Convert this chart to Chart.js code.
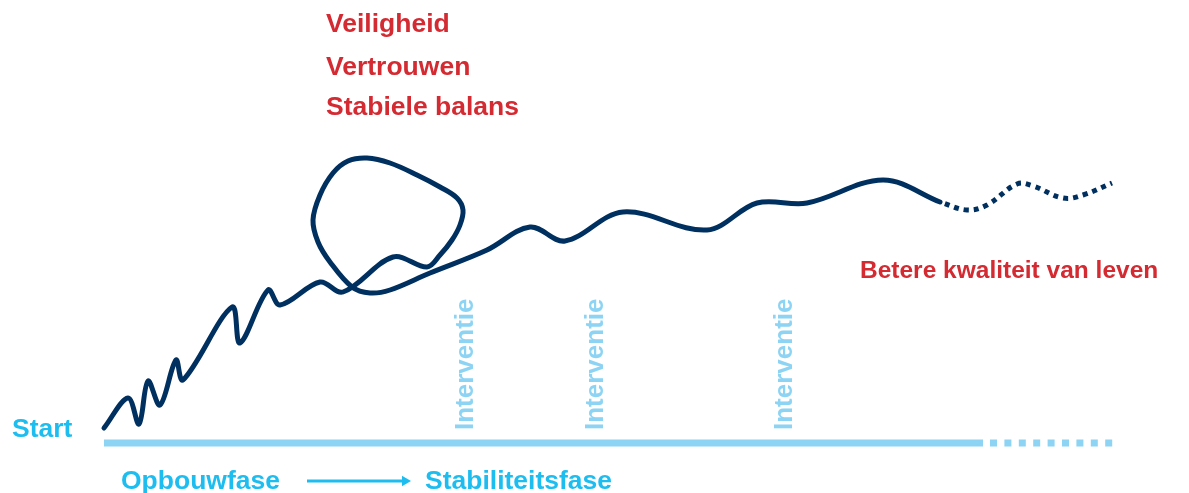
<!DOCTYPE html>
<html>
<head>
<meta charset="utf-8">
<script src="https://cdn.jsdelivr.net/npm/chart.js@4/dist/chart.umd.min.js"></script>
<style>
  html, body { margin: 0; padding: 0; background: #fff; }
  #wrap { width: 1189px; height: 493px; }
</style>
</head>
<body>
<div id="wrap"><canvas id="journey"></canvas></div>
<script>
// Path of the journey (time on x, level on y, y grows downward)
const pathX = [104, 128, 139, 148, 160, 176, 183, 232, 240, 268, 280, 320, 343, 393, 427, 440, 452, 460, 463, 457, 440, 417, 390, 367, 348, 333, 320, 313, 318, 330, 352, 370, 390, 430, 487, 530, 565, 623, 707, 757, 807, 883, 940];
const pathY = [428, 398, 424, 381, 405, 360, 380, 307, 343, 290, 305, 282, 292, 257, 267, 255, 240, 225, 210, 198, 187, 175, 163, 158, 161, 173, 195, 220, 242, 262, 287, 293, 290, 273, 250, 227, 241, 212, 230, 203, 203, 180, 202];

// Uncertain future part (dotted)
const futureX = [940, 967, 987, 1017, 1033, 1063, 1083, 1112];
const futureY = [202, 210, 205, 184, 186, 198, 195, 183];

// Time axis
const axisStart = 104;
const axisKnown = 983;
const axisEnd = 1113;
const axisLevel = 443;

// Phase arrow
const arrowFrom = 307;
const arrowTo = 405;
const arrowLevel = 481;

// Labels
const goalLabels = ['Veiligheid', 'Vertrouwen', 'Stabiele balans'];
const outcomeLabel = 'Betere kwaliteit van leven';
const interventionX = [473, 603, 792];
const phaseLabels = ['Opbouwfase', 'Stabiliteitsfase'];

const NAVY = '#00305f';
const RED = '#d42a32';
const CYAN = '#1ebdf0';
const LIGHT = '#8dd4f4';
const FONT = '"Liberation Sans", Arial, sans-serif';

const toPoints = (xs, ys) => xs.map((x, i) => ({ x, y: ys[i] }));

const labelPlugin = {
  id: 'labels',
  afterDatasetsDraw(chart) {
    const { ctx, scales: { x, y } } = chart;
    ctx.save();
    ctx.font = 'bold 26.5px ' + FONT;
    ctx.textBaseline = 'alphabetic';

    ctx.fillStyle = RED;
    [32, 75, 115].forEach((b, i) => ctx.fillText(goalLabels[i], x.getPixelForValue(326), y.getPixelForValue(b)));
    ctx.font = 'bold 24.5px ' + FONT;
    ctx.fillText(outcomeLabel, x.getPixelForValue(860), y.getPixelForValue(278));

    ctx.font = 'bold 26.5px ' + FONT;
    ctx.fillStyle = CYAN;
    ctx.fillText('Start', x.getPixelForValue(12), y.getPixelForValue(437));
    ctx.fillText(phaseLabels[0], x.getPixelForValue(121), y.getPixelForValue(489));
    ctx.fillText(phaseLabels[1], x.getPixelForValue(425), y.getPixelForValue(489));

    ctx.font = 'bold 26px ' + FONT;
    ctx.fillStyle = LIGHT;
    interventionX.forEach(v => {
      ctx.save();
      ctx.translate(x.getPixelForValue(v), y.getPixelForValue(430));
      ctx.rotate(-Math.PI / 2);
      ctx.fillText('Interventie', 0, 0);
      ctx.restore();
    });
    ctx.restore();
  }
};

new Chart(document.getElementById('journey'), {
  type: 'scatter',
  data: {
    datasets: [
      {
        data: [{ x: axisStart, y: axisLevel }, { x: axisKnown, y: axisLevel }],
        showLine: true, borderColor: LIGHT, borderWidth: 7, pointRadius: 0, borderCapStyle: 'butt'
      },
      {
        data: [{ x: axisKnown, y: axisLevel }, { x: axisEnd, y: axisLevel }],
        showLine: true, borderColor: LIGHT, borderWidth: 7, pointRadius: 0,
        borderDash: [7, 7.4], borderDashOffset: -7, borderCapStyle: 'butt'
      },
      {
        data: toPoints(pathX, pathY),
        showLine: true, borderColor: NAVY, borderWidth: 5, pointRadius: 0,
        tension: 0.35, borderCapStyle: 'round', borderJoinStyle: 'round'
      },
      {
        data: toPoints(futureX, futureY),
        showLine: true, borderColor: NAVY, borderWidth: 5, pointRadius: 0,
        tension: 0.4, borderDash: [5, 5], borderDashOffset: -5, borderCapStyle: 'butt'
      },
      {
        data: [{ x: arrowFrom, y: arrowLevel }, { x: arrowTo, y: arrowLevel }],
        showLine: true, borderColor: CYAN, backgroundColor: CYAN, borderWidth: 3,
        pointStyle: 'triangle', pointRotation: 90, pointRadius: [0, 6], pointBorderWidth: 0
      }
    ]
  },
  options: {
    responsive: true,
    maintainAspectRatio: false,
    animation: false,
    layout: { padding: 0, autoPadding: false },
    plugins: { legend: { display: false }, tooltip: { enabled: false } },
    scales: {
      x: { type: 'linear', min: 0, max: 1189, display: false },
      y: { type: 'linear', min: 0, max: 493, reverse: true, display: false }
    }
  },
  plugins: [labelPlugin]
});
</script>
</body>
</html>
